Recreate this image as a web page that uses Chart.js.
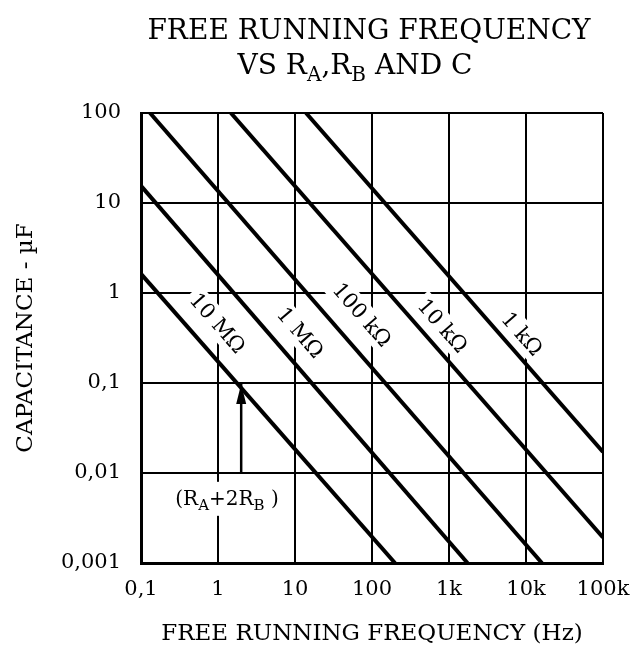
<!DOCTYPE html>
<html>
<head>
<meta charset="utf-8">
<script src="https://cdn.jsdelivr.net/npm/chart.js@4.4.1/dist/chart.umd.min.js"></script>
<style>
  html, body { margin: 0; padding: 0; background: #fff; }
</style>
</head>
<body>
<canvas id="chart" width="631" height="648"></canvas>
<script>
// axis decades and their printed labels (datasheet uses decimal commas)
const xTicks = [0.1, 1, 10, 100, 1000, 10000, 100000];
const xTickLabels = ['0,1', '1', '10', '100', '1k', '10k', '100k'];
const yTicks = [0.001, 0.01, 0.1, 1, 10, 100];
const yTickLabels = ['0,001', '0,01', '0,1', '1', '10', '100'];

// (RA + 2RB) lines: start / end points, Hz and uF
const lineNames = ['10 MΩ', '1 MΩ', '100 kΩ', '10 kΩ', '1 kΩ'];
const lineFreq = [[0.1, 199], [0.1, 1740], [0.131, 16100], [1.47, 100000], [13.9, 100000]];
const lineCap = [[1.63, 0.001], [15.5, 0.001], [100, 0.001], [100, 0.00192], [100, 0.0171]];
const labelFreq = [0.98, 11.6, 73.5, 819, 8790];
const labelCap = [0.46, 0.36, 0.57, 0.43, 0.35];

// arrow pointing at the 10 MOhm line
const arrowFreq = [2, 2];
const arrowCap = [0.01, 0.1];
const noteFreq = 1.31;
const noteCap = 0.0053;

const FONT = '"DejaVu Serif", "Liberation Serif", serif';

// draws text with subscript parts, centred on cx
function drawParts(ctx, parts, cx, baseY, size, subSize, drop) {
    const widths = parts.map(p => {
        ctx.font = (p.sub ? subSize : size) + 'px ' + FONT;
        return ctx.measureText(p.t).width;
    });
    const total = widths.reduce((a, b) => a + b, 0);
    let x = cx - total / 2;
    ctx.textAlign = 'left';
    ctx.textBaseline = 'alphabetic';
    parts.forEach((p, i) => {
        ctx.font = (p.sub ? subSize : size) + 'px ' + FONT;
        ctx.fillText(p.t, x, baseY + (p.sub ? drop : 0));
        x += widths[i];
    });
    return total;
}

const labelPlugin = {
    id: 'lineLabels',
    beforeDatasetsDraw(chart) {
        const { ctx, scales: { x, y } } = chart;
        ctx.save();
        ctx.font = '21px ' + FONT;
        lineNames.forEach((name, i) => {
            const x0 = x.getPixelForValue(lineFreq[i][0]);
            const y0 = y.getPixelForValue(lineCap[i][0]);
            const x1 = x.getPixelForValue(lineFreq[i][1]);
            const y1 = y.getPixelForValue(lineCap[i][1]);
            const ang = Math.atan2(y1 - y0, x1 - x0);
            ctx.save();
            ctx.translate(x.getPixelForValue(labelFreq[i]), y.getPixelForValue(labelCap[i]));
            ctx.rotate(ang);
            const w = ctx.measureText(name).width;
            ctx.fillStyle = '#fff';
            ctx.fillRect(-w / 2 - 4, -13, w + 8, 26);
            ctx.fillStyle = '#000';
            ctx.textAlign = 'center';
            ctx.textBaseline = 'middle';
            ctx.fillText(name, 0, 1);
            ctx.restore();
        });

        // (RA+2RB) note with a white patch behind it
        const nx = x.getPixelForValue(noteFreq);
        const ny = y.getPixelForValue(noteCap);
        ctx.fillStyle = '#fff';
        ctx.fillRect(nx - 62, ny - 16, 124, 34);
        ctx.fillStyle = '#000';
        drawParts(ctx, [
            { t: '(R' }, { t: 'A', sub: true }, { t: '+2R' }, { t: 'B', sub: true }, { t: ' )' }
        ], nx, ny + 7, 20, 15, 5);
        ctx.restore();
    },
    afterDatasetsDraw(chart) {
        const { ctx, scales: { x, y } } = chart;
        const ax = x.getPixelForValue(arrowFreq[1]);
        const ay = y.getPixelForValue(arrowCap[1]) + 1;
        ctx.save();
        ctx.fillStyle = '#000';
        ctx.beginPath();
        ctx.moveTo(ax, ay);
        ctx.lineTo(ax - 5, ay + 20);
        ctx.lineTo(ax + 5, ay + 20);
        ctx.closePath();
        ctx.fill();
        ctx.restore();
    },
    afterDraw(chart) {
        const { ctx } = chart;
        ctx.save();
        ctx.fillStyle = '#000';
        drawParts(ctx, [{ t: 'FREE RUNNING FREQUENCY' }], 369, 39, 28, 19, 7);
        drawParts(ctx, [
            { t: 'VS R' }, { t: 'A', sub: true }, { t: ',R' }, { t: 'B', sub: true }, { t: ' AND C' }
        ], 355, 74, 28, 20, 7);
        ctx.restore();
    }
};

const datasets = lineNames.map((name, i) => ({
    label: name,
    data: [
        { x: lineFreq[i][0], y: lineCap[i][0] },
        { x: lineFreq[i][1], y: lineCap[i][1] }
    ],
    borderColor: '#000',
    borderWidth: 4,
    pointRadius: 0
}));
datasets.push({
    label: 'arrow',
    data: arrowFreq.map((f, i) => ({ x: f, y: arrowCap[i] })),
    borderColor: '#000',
    borderWidth: 2.5,
    pointRadius: 0
});

new Chart(document.getElementById('chart'), {
    type: 'line',
    data: { datasets: datasets },
    options: {
        responsive: false,
        animation: false,
        devicePixelRatio: 1,
        layout: { padding: { top: 113, right: 28, bottom: 0, left: 0 } },
        plugins: {
            legend: { display: false },
            tooltip: { enabled: false }
        },
        scales: {
            x: {
                type: 'logarithmic',
                min: 0.1,
                max: 100000,
                afterBuildTicks: s => { s.ticks = xTicks.map(v => ({ value: v })); },
                afterFit: s => { s.height = 85; s.paddingLeft = 0; s.paddingRight = 0; },
                ticks: {
                    color: '#000',
                    font: { family: FONT, size: 21 },
                    padding: 14,
                    maxRotation: 0,
                    callback: v => xTickLabels[xTicks.indexOf(v)]
                },
                grid: { color: '#000', lineWidth: 2, drawTicks: false },
                border: { color: '#000', width: 3 },
                title: {
                    display: true,
                    text: 'FREE RUNNING FREQUENCY (Hz)',
                    color: '#000',
                    font: { family: FONT, size: 23 },
                    padding: 0
                }
            },
            y: {
                type: 'logarithmic',
                min: 0.001,
                max: 100,
                afterBuildTicks: s => { s.ticks = yTicks.map(v => ({ value: v })); },
                afterFit: s => { s.width = 141; s.paddingTop = 0; s.paddingBottom = 0; },
                ticks: {
                    color: '#000',
                    font: { family: FONT, size: 21 },
                    padding: 20,
                    callback: v => yTickLabels[yTicks.indexOf(v)]
                },
                grid: { color: '#000', lineWidth: 2, drawTicks: false },
                border: { color: '#000', width: 3 },
                title: {
                    display: true,
                    text: 'CAPACITANCE - µF',
                    color: '#000',
                    font: { family: FONT, size: 23 },
                    padding: { top: 12, bottom: 0 }
                }
            }
        }
    },
    plugins: [labelPlugin]
});
</script>
</body>
</html>
